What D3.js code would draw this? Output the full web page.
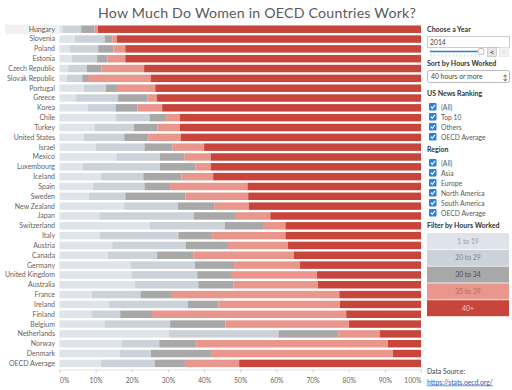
<!DOCTYPE html>
<html>
<head>
<meta charset="utf-8">
<script src="https://cdn.jsdelivr.net/npm/d3@7"></script>
<style>
  body { margin: 0; background: #fff; }
  svg { display: block; font-family: "Lato", "DejaVu Sans", sans-serif; }
</style>
</head>
<body>
<div id="chart"></div>
<script>
// countries in display order (sorted by 40+ hours, OECD average pinned last)
const countries = ["Hungary", "Slovenia", "Poland", "Estonia", "Czech Republic", "Slovak Republic",
  "Portugal", "Greece", "Korea", "Chile", "Turkey", "United States", "Israel", "Mexico",
  "Luxembourg", "Iceland", "Spain", "Sweden", "New Zealand", "Japan", "Switzerland", "Italy",
  "Austria", "Canada", "Germany", "United Kingdom", "Australia", "France", "Ireland", "Finland",
  "Belgium", "Netherlands", "Norway", "Denmark", "OECD Average"];

const bands = ["1 to 19", "20 to 29", "30 to 34", "35 to 39", "40+"];

// share (%) of employed women in each band of usual weekly hours, 2014
const h1to19 = [0.8, 4.3, 2.9, 3.4, 2.4, 2.1, 6.8, 4.6, 7.9, 15.5, 9.7, 6.8, 10.1, 15.9,
  6.5, 11.5, 9.3, 8.2, 17.9, 11.0, 24.9, 11.2, 14.6, 13.4, 19.6, 19.9, 20.9, 9.0, 13.7, 9.0,
  12.4, 30.3, 17.3, 16.7, 11.5];
const h20to29 = [5.2, 8.2, 7.8, 7.0, 5.2, 4.2, 6.0, 11.6, 7.6, 9.4, 10.9, 11.1, 13.4, 11.9,
  21.3, 11.7, 14.2, 10.0, 14.9, 26.2, 20.8, 21.7, 20.3, 13.6, 17.9, 18.2, 17.5, 13.4, 21.8, 7.8,
  18.2, 30.3, 10.3, 8.6, 14.8];
const h30to34 = [3.7, 2.1, 4.2, 2.9, 4.0, 1.6, 3.1, 8.1, 6.1, 4.6, 6.5, 6.7, 7.7, 6.7,
  9.8, 10.5, 7.1, 16.6, 10.0, 11.6, 10.6, 9.3, 11.7, 10.0, 10.8, 9.6, 9.8, 8.7, 8.5, 8.8,
  15.3, 16.5, 10.2, 16.6, 8.4];
const h35to39 = [0.9, 1.3, 3.3, 4.9, 11.8, 17.4, 10.6, 2.6, 6.8, 3.8, 6.2, 9.0, 8.8, 7.4,
  4.3, 8.8, 21.4, 17.4, 9.6, 9.5, 6.2, 20.3, 16.6, 27.8, 18.2, 23.5, 23.3, 46.3, 33.6, 53.7,
  34.2, 11.5, 53.0, 50.3, 15.0];
const h40plus = [89.4, 84.1, 81.8, 81.8, 76.6, 74.7, 73.5, 73.1, 71.6, 66.7, 66.7, 66.4, 60.0, 58.1,
  58.1, 57.5, 48.0, 47.8, 47.6, 41.7, 37.5, 37.5, 36.8, 35.2, 33.5, 28.8, 28.5, 22.6, 22.4, 20.7,
  19.9, 11.4, 9.2, 7.8, 50.3];

const xTicks = [0, 10, 20, 30, 40, 50, 60, 70, 80, 90, 100];

const usRanking = ["(All)", "Top 10", "Others", "OECD Average"];
const regions = ["(All)", "Asia", "Europe", "North America", "South America", "OECD Average"];

const colors = ["#dfe4ea", "#cbd2d9", "#a8a8a8", "#e9978c", "#c8453b"];
const legendText = ["#9aa0a6", "#7d858c", "#4a4a4a", "#b8675d", "#f6d0c9"];

let win_width = 512, win_height = 390;

let svg = d3.select("#chart").append("svg")
  .attr("width", win_width).attr("height", win_height);

// build table
let data = countries.map(function(c, i) {
  return {country: c, "1 to 19": h1to19[i], "20 to 29": h20to29[i], "30 to 34": h30to34[i],
          "35 to 39": h35to39[i], "40+": h40plus[i]};
});
data.forEach(function(d) {
  let tot = d3.sum(bands, b => d[b]);
  bands.forEach(b => d[b] = d[b] / tot * 100);
});
let series = d3.stack().keys(bands)(data);

let x = d3.scaleLinear().domain([0, 100]).range([59.5, 421]);
let y = d3.scaleBand().domain(countries).range([24.3, 368.3]).paddingInner(0.24).paddingOuter(0.12);
let color = d3.scaleOrdinal().domain(bands).range(colors);

// title
svg.append("text")
  .attr("x", 257).attr("y", 17.5)
  .attr("text-anchor", "middle")
  .attr("font-size", 14.2)
  .attr("fill", "#5a5a5a")
  .attr("letter-spacing", 0.2)
  .text("How Much Do Women in OECD Countries Work?");

// highlighted first row
svg.append("rect")
  .attr("x", 5).attr("y", y("Hungary") - 1)
  .attr("width", x(0) - 5).attr("height", y.bandwidth() + 2)
  .attr("fill", "#f1f1f1");

// bars
svg.append("g").selectAll("g")
  .data(series)
  .join("g")
  .attr("fill", d => color(d.key))
  .selectAll("rect")
  .data(d => d)
  .join("rect")
  .attr("x", d => x(d[0]))
  .attr("width", d => x(d[1]) - x(d[0]))
  .attr("y", d => y(d.data.country))
  .attr("height", y.bandwidth());

// country labels
svg.append("g").selectAll("text")
  .data(countries)
  .join("text")
  .attr("x", 55)
  .attr("y", d => y(d) + y.bandwidth() / 2)
  .attr("dy", "0.35em")
  .attr("text-anchor", "end")
  .attr("font-size", 7)
  .attr("fill", "#5f5f5f")
  .text(d => d);

// x axis
let xAxis = svg.append("g")
  .attr("transform", "translate(0,369.5)")
  .call(d3.axisBottom(x).tickValues(xTicks).tickSize(3).tickFormat(d => d + "%"));
xAxis.select(".domain").attr("stroke", "#e2e2e2");
xAxis.selectAll(".tick line").attr("stroke", "#d0d0d0");
xAxis.selectAll("text").attr("font-size", 6.8).attr("fill", "#666")
  .attr("font-family", "Lato, sans-serif").attr("dy", "1.05em")
  .attr("text-anchor", d => d === 0 ? "start" : d === 100 ? "end" : "middle");

// ---- right side controls ----
let p = svg.append("g").attr("font-size", 7.3).attr("fill", "#444");

function heading(txt, yy) {
  p.append("text").attr("x", 427).attr("y", yy)
    .attr("font-weight", "bold").attr("fill", "#333").attr("font-size", 7).text(txt);
}

heading("Choose a Year", 32);
p.append("rect").attr("x", 427.5).attr("y", 36.5).attr("width", 82).attr("height", 11)
  .attr("fill", "#fff").attr("stroke", "#ccc");
p.append("text").attr("x", 430).attr("y", 44.5).attr("font-size", 6.8).attr("fill", "#444").text("2014");
// slider
p.append("line").attr("x1", 430).attr("x2", 479).attr("y1", 51.5).attr("y2", 51.5)
  .attr("stroke", "#2e7bd6").attr("stroke-width", 1.5);
p.append("g").selectAll("line")
  .data(d3.range(0, 14))
  .join("line")
  .attr("x1", d => 431 + d * 3.7).attr("x2", d => 431 + d * 3.7)
  .attr("y1", 54.5).attr("y2", 56.5)
  .attr("stroke", "#bbb").attr("stroke-width", 0.6);
p.append("circle").attr("cx", 481).attr("cy", 51.5).attr("r", 3.2)
  .attr("fill", "#fff").attr("stroke", "#bbb");
p.append("rect").attr("x", 487.5).attr("y", 47.5).attr("width", 9).attr("height", 9)
  .attr("fill", "#e4e4e4").attr("stroke", "#bbb").attr("stroke-width", 0.6);
p.append("text").attr("x", 492).attr("y", 54.5).attr("text-anchor", "middle")
  .attr("font-size", 7.5).attr("font-weight", "bold").attr("fill", "#444").text("<");
p.append("rect").attr("x", 499.5).attr("y", 47.5).attr("width", 9).attr("height", 9)
  .attr("fill", "#f2f2f2").attr("stroke", "#e0e0e0").attr("stroke-width", 0.6);
p.append("text").attr("x", 504).attr("y", 54.5).attr("text-anchor", "middle")
  .attr("font-size", 7.5).attr("fill", "#ccc").text(">");

heading("Sort by Hours Worked", 66);
p.append("rect").attr("x", 427.5).attr("y", 70.5).attr("width", 82).attr("height", 12)
  .attr("rx", 2).attr("fill", "#fff").attr("stroke", "#bbb");
p.append("text").attr("x", 431).attr("y", 79).attr("font-size", 6.8).attr("fill", "#444").text("40 hours or more");
p.append("text").attr("x", 505).attr("y", 79.5).attr("text-anchor", "middle")
  .attr("font-size", 7).attr("fill", "#444").text("\u2195");

function checkList(items, y0) {
  let g = p.append("g");
  let it = g.selectAll("g").data(items).join("g")
    .attr("transform", (d, i) => "translate(0," + (y0 + i * 10) + ")");
  it.append("rect").attr("x", 429).attr("y", -4).attr("width", 7.5).attr("height", 7.5)
    .attr("rx", 1).attr("fill", "#2c7ee0");
  it.append("path").attr("d", "M430.8,-0.4 L432.3,1.3 L434.9,-2.2")
    .attr("fill", "none").attr("stroke", "#fff").attr("stroke-width", 1.1);
  it.append("text").attr("x", 441).attr("y", 2.6).attr("font-size", 6.8).attr("fill", "#5a5a5a")
    .text(d => d);
}

heading("US News Ranking", 96);
checkList(usRanking, 107);
heading("Region", 152);
checkList(regions, 163);

heading("Filter by Hours Worked", 228);
let lg = p.append("g").selectAll("g")
  .data(bands)
  .join("g")
  .attr("transform", (d, i) => "translate(427," + (233 + i * 16.8) + ")");
lg.append("rect").attr("width", 82).attr("height", 16)
  .attr("fill", (d, i) => colors[i]);
lg.append("text").attr("x", 41).attr("y", 10.5).attr("text-anchor", "middle")
  .attr("font-size", 6.8).attr("fill", (d, i) => legendText[i]).text(d => d);

p.append("text").attr("x", 427).attr("y", 373.5).attr("font-size", 6.8).attr("fill", "#444")
  .text("Data Source:");
p.append("text").attr("x", 427).attr("y", 384.5).attr("font-size", 6.8).attr("fill", "#2a5db0")
  .attr("text-decoration", "underline").text("https://stats.oecd.org/");
</script>
</body>
</html>
